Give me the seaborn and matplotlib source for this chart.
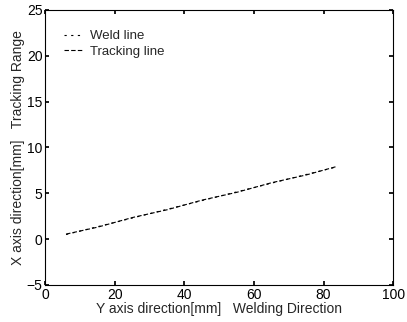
import matplotlib
matplotlib.use("Agg")
import matplotlib.pyplot as plt
import seaborn as sns
import pandas as pd

# weld seam (reference) and tracked path
weld_y = [6, 15, 25, 35, 45, 55, 65, 75, 84]
weld_x = [0.50, 1.35, 2.30, 3.25, 4.20, 5.15, 6.10, 7.05, 7.90]
track_y = [6, 15, 25, 35, 45, 55, 65, 75, 84]
track_x = [0.55, 1.30, 2.35, 3.20, 4.25, 5.10, 6.15, 7.00, 7.95]

sns.set_theme(style="ticks")
plt.rcParams["font.family"] = ["Liberation Sans", "DejaVu Sans"]

weld = pd.DataFrame({"y": weld_y, "x": weld_x})
track = pd.DataFrame({"y": track_y, "x": track_x})

fig = plt.figure(figsize=(4.07, 3.22), dpi=100)
ax = fig.add_axes([0.111, 0.115, 0.855, 0.854])

sns.lineplot(data=weld, x="y", y="x", ax=ax, color="black", lw=0.8,
             linestyle=(0, (2, 4)), label="Weld line")
sns.lineplot(data=track, x="y", y="x", ax=ax, color="black", lw=0.8,
             linestyle=(0, (4, 2)), label="Tracking line")

ax.set_xlim(0, 100)
ax.set_ylim(-5, 25)
ax.set_xticks([0, 20, 40, 60, 80, 100])
ax.set_yticks([-5, 0, 5, 10, 15, 20, 25])
ax.tick_params(direction="in", length=3, labelsize=10, colors="black", pad=2,
               top=True, right=True)
for s in ax.spines.values():
    s.set_color("black")
    s.set_linewidth(0.8)

ax.set_xlabel("Y axis direction[mm]   Welding Direction", fontsize=10, labelpad=0)
ax.set_ylabel("X axis direction[mm]   Tracking Range", fontsize=10, labelpad=1)
ax.legend(loc="upper left", frameon=False, fontsize=9.5, handlelength=1.4,
          handletextpad=0.6, bbox_to_anchor=(0.02, 0.97), labelspacing=0.25)

fig.savefig("out.png", dpi=100)
